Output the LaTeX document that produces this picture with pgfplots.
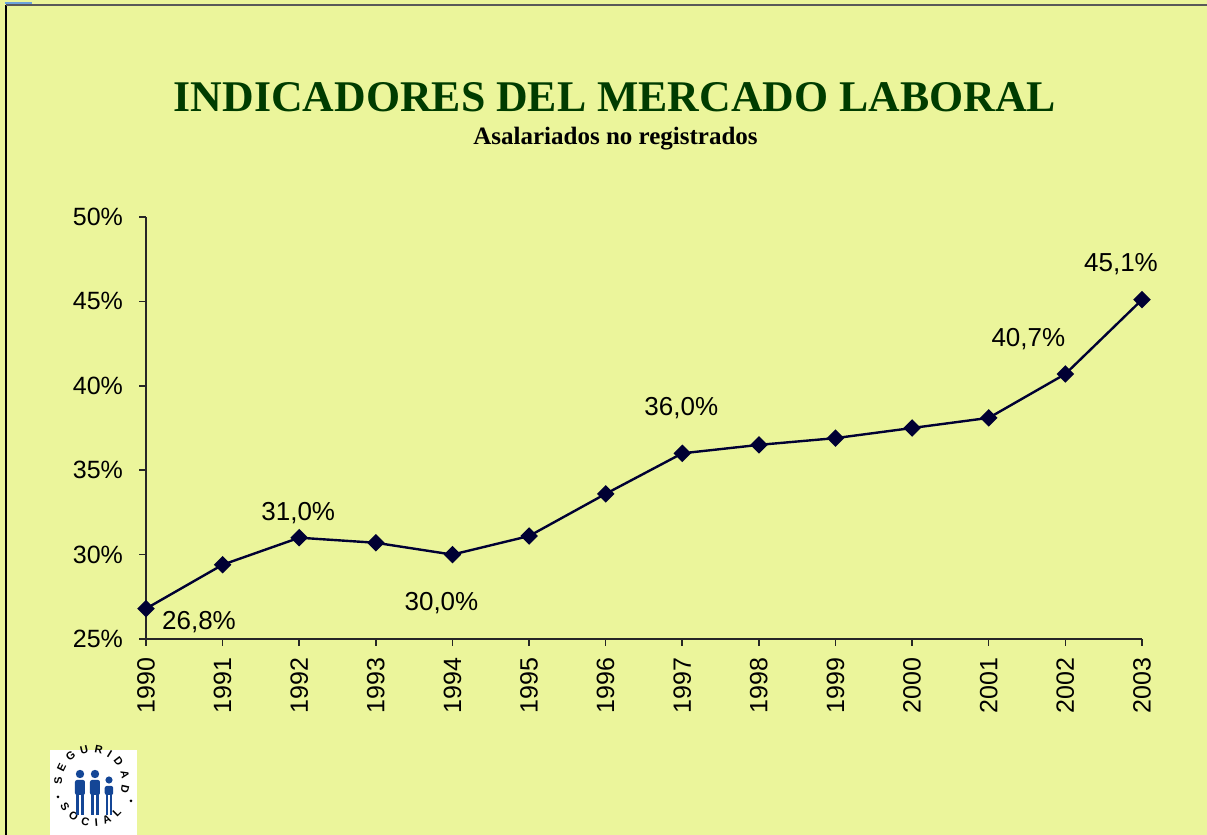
\documentclass[border=0pt]{standalone}
\usepackage{fontspec}
\setmainfont{Liberation Serif}
\newfontfamily\arial{Liberation Sans}
\usepackage{pgfplots}
\pgfplotsset{compat=1.18}
\usetikzlibrary{decorations.text}
\definecolor{bgyellow}{RGB}{235,245,155}
\definecolor{titlegreen}{RGB}{0,60,0}
\definecolor{navy}{RGB}{0,0,51}
\definecolor{logoblue}{RGB}{20,70,150}
\begin{document}
\begin{tikzpicture}[x=0.5pt,y=0.5pt]
\useasboundingbox (-146,-196) rectangle (1061,639);
\fill[bgyellow] (-146,-196) rectangle (1061,639);
\draw[black, line width=1.2pt] (-140,-196) -- (-140,634);
\draw[black!65, line width=1pt] (-140,634) -- (1061,634);
\draw[cyan!60!blue!60, line width=1pt] (-141,636) -- (-114,636);
% title
\node[font=\bfseries\fontsize{21.9}{26}\selectfont, text=titlegreen, anchor=base] at (469,527) {INDICADORES DEL MERCADO LABORAL};
\node[font=\bfseries\fontsize{12.5}{14}\selectfont, text=black, anchor=base] at (469.5,494) {Asalariados no registrados};
% logo
\fill[white] (-96,-196) rectangle (-9,-111);
\path[decorate, decoration={text along path, text={|\arial\bfseries\fontsize{5.5}{6}\selectfont|SEGURIDAD}, text align=fit to path}] (-84,-146) arc (185:-20:30);
\path[decorate, decoration={text along path, text={|\arial\bfseries\fontsize{5.5}{6}\selectfont|SOCIAL}, text align=fit to path}] (-86,-166) arc (205:320:37);
\fill[black] (-88,-158) circle (1.5);
\fill[black] (-15,-162) circle (1.5);
\foreach \dx/\s/\h in {-66/1/0, -51/1/0, -37/0.85/6}{
  \fill[logoblue] ({\dx},{-135-\h}) circle ({4.2*\s});
  \fill[logoblue, rounded corners=1] ({\dx-5*\s},-156) rectangle ({\dx+5*\s},{-141-\h});
  \fill[logoblue] ({\dx-4*\s},-176) rectangle ({\dx-0.6},-155);
  \fill[logoblue] ({\dx+0.6},-176) rectangle ({\dx+4*\s},-155);
}
\begin{axis}[
  at={(0,0)}, anchor=south west,
  scale only axis, width=498pt, height=211pt,
  xmin=1990, xmax=2003, ymin=25, ymax=50,
  enlargelimits=false, clip=false,
  axis x line*=bottom, axis y line*=left,
  axis line style={-, line width=0.75pt, black!85},
  tick style={line width=0.75pt, black!85},
  tick align=outside, major tick length=3.5pt,
  xtick={1990,...,2003},
  xticklabels={1990,1991,1992,1993,1994,1995,1996,1997,1998,1999,2000,2001,2002,2003},
  ytick={25,30,35,40,45,50},
  yticklabels={25\%,30\%,35\%,40\%,45\%,50\%},
  ticklabel style={font=\arial\fontsize{12.5}{14}\selectfont, text=black},
  x tick label style={rotate=90, anchor=east, xshift=-2.5pt},
  y tick label style={xshift=-4.5pt},
  minor tick num=0,
]
\addplot[navy, line width=1.2pt, mark=square*, mark size=2.5pt, mark options={rotate=45, fill=navy, draw=navy}]
coordinates {
(1990,26.8) (1991,29.4) (1992,31.0) (1993,30.7) (1994,30.0) (1995,31.1) (1996,33.6)
(1997,36.0) (1998,36.5) (1999,36.9) (2000,37.5) (2001,38.1) (2002,40.7) (2003,45.1)
};
\tikzset{lbl/.style={font=\arial\fontsize{13}{15}\selectfont, text=black}}
\node[lbl, xshift=26.5pt, yshift=-6.5pt] at (axis cs:1990,26.8) {26,8\%};
\node[lbl, xshift=-0.5pt, yshift=12.5pt] at (axis cs:1992,31.0) {31,0\%};
\node[lbl, xshift=-5.5pt, yshift=-24pt] at (axis cs:1994,30.0) {30,0\%};
\node[lbl, xshift=-0.5pt, yshift=22.5pt] at (axis cs:1997,36.0) {36,0\%};
\node[lbl, xshift=-18.5pt, yshift=17.5pt] at (axis cs:2002,40.7) {40,7\%};
\node[lbl, xshift=-10.5pt, yshift=18pt] at (axis cs:2003,45.1) {45,1\%};
\end{axis}
\end{tikzpicture}
\end{document}
